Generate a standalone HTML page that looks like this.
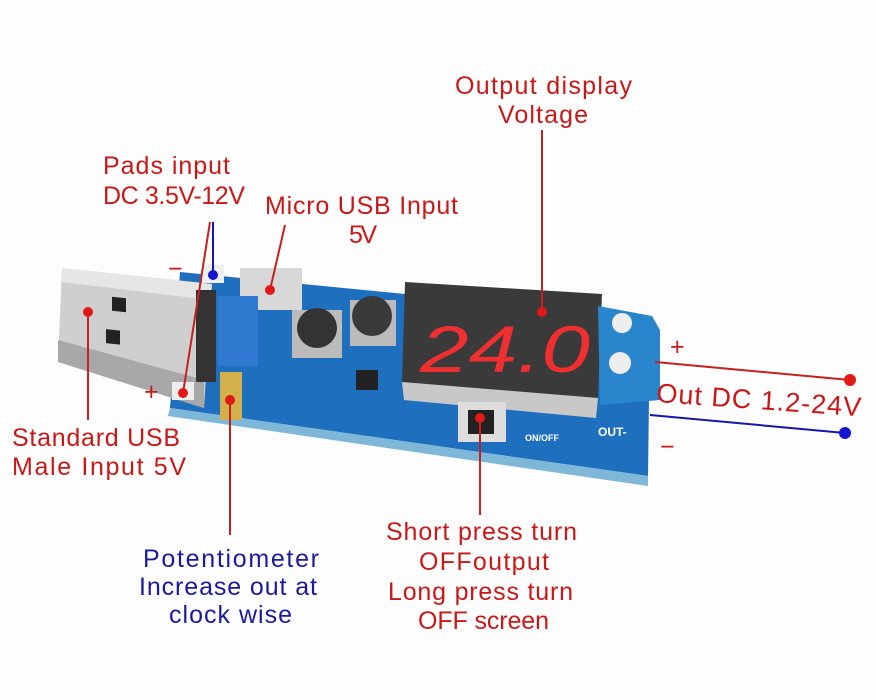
<!DOCTYPE html>
<html><head><meta charset="utf-8"><style>
html,body{margin:0;padding:0;background:#fff;}
svg{display:block;}
text{font-family:"Liberation Sans","DejaVu Sans",sans-serif;}
</style></head><body>
<svg width="876" height="700" viewBox="0 0 876 700" xmlns="http://www.w3.org/2000/svg">
<rect width="876" height="700" fill="#fdfdfd"/>
<!-- PCB -->
<polygon points="180,272 650,318 648,476 170,408" fill="#1f6fbf"/>
<polygon points="170,408 648,476 648,486 168,416" fill="#7fb7d8"/>
<!-- USB metal -->
<polygon points="62,268 212,284 204,408 58,362" fill="#cfcfcf"/>
<polygon points="62,268 212,284 210,300 62,282" fill="#e6e6e6"/>
<polygon points="58,340 204,380 204,408 58,362" fill="#a8a8a8"/>
<rect x="112" y="285" width="14" height="14" fill="#222" transform="skewY(6)"/>
<rect x="106" y="318" width="14" height="14" fill="#222" transform="skewY(6)"/>
<rect x="196" y="290" width="20" height="92" fill="#333"/>
<rect x="202" y="265" width="22" height="18" fill="#eee"/>
<rect x="172" y="382" width="22" height="18" fill="#eee"/>
<rect x="240" y="268" width="62" height="42" fill="#d8d8d8"/>
<rect x="218" y="296" width="40" height="70" fill="#2f7ad0"/>
<rect x="220" y="372" width="22" height="48" fill="#d4b04a"/>
<rect x="292" y="310" width="50" height="48" fill="#bbb"/>
<circle cx="317" cy="328" r="20" fill="#333"/>
<rect x="350" y="300" width="46" height="46" fill="#bbb"/>
<circle cx="372" cy="316" r="20" fill="#3a3a3a"/>
<rect x="356" y="370" width="22" height="20" fill="#222"/>
<!-- display -->
<polygon points="405,282 602,294 598,398 402,382" fill="#3a3a3a"/>
<polygon points="402,382 598,398 596,418 404,400" fill="#c8c8c8"/>
<text x="420" y="372" font-size="66" fill="#f03030" font-style="italic" font-family="Liberation Mono" textLength="170" lengthAdjust="spacingAndGlyphs">24.0</text>
<rect x="458" y="402" width="48" height="40" fill="#ddd"/>
<rect x="468" y="410" width="26" height="24" fill="#222"/>
<text x="525" y="441" font-size="9" fill="#fff" font-weight="bold">ON/OFF</text>
<text x="598" y="436" font-size="12" fill="#fff" font-weight="bold">OUT-</text>
<polygon points="598,306 652,316 660,330 660,400 600,405" fill="#2a86cc"/>
<circle cx="622" cy="323" r="10" fill="#eee"/>
<circle cx="620" cy="363" r="11" fill="#eee"/>
<!-- leader lines -->
<g stroke="#c82020" stroke-width="2" fill="none">
<line x1="210" y1="222" x2="183" y2="393"/>
<line x1="285" y1="225" x2="270" y2="290"/>
<line x1="88" y1="312" x2="88" y2="420"/>
<line x1="230" y1="400" x2="230" y2="535"/>
<line x1="542" y1="130" x2="542" y2="312"/>
<line x1="480" y1="418" x2="480" y2="515"/>
<line x1="655" y1="362" x2="850" y2="380"/>
</g>
<g stroke="#1515b0" stroke-width="2" fill="none">
<line x1="213" y1="222" x2="213" y2="275"/>
<line x1="650" y1="415" x2="845" y2="433"/>
</g>
<g fill="#e01818">
<circle cx="183" cy="393" r="5"/><circle cx="270" cy="290" r="5"/><circle cx="88" cy="312" r="5"/>
<circle cx="230" cy="400" r="5"/><circle cx="542" cy="312" r="5"/><circle cx="480" cy="418" r="5"/>
<circle cx="850" cy="380" r="6"/>
</g>
<circle cx="213" cy="275" r="5" fill="#1515d0"/>
<circle cx="845" cy="433" r="6" fill="#1515d0"/>
<!-- labels -->
<g fill="#c81818" font-size="25" lengthAdjust="spacingAndGlyphs">
<text x="103" y="174" textLength="127">Pads input</text>
<text x="103" y="204" textLength="142">DC 3.5V-12V</text>
<text x="265" y="214" textLength="193">Micro USB Input</text>
<text x="349" y="243" textLength="28">5V</text>
<text x="455" y="94" textLength="177">Output display</text>
<text x="498" y="123" textLength="90">Voltage</text>
<text x="12" y="446" textLength="168">Standard USB</text>
<text x="12" y="475" textLength="174">Male Input 5V</text>
<text x="386" y="540" textLength="191">Short press turn</text>
<text x="419" y="570" textLength="130">OFFoutput</text>
<text x="388" y="600" textLength="185">Long press turn</text>
<text x="418" y="629" textLength="131">OFF screen</text>
<text x="656" y="402" font-size="27" transform="rotate(4 656 402)" textLength="205">Out DC 1.2-24V</text>
<text x="168" y="277">−</text>
<text x="144" y="400">+</text>
<text x="670" y="355">+</text>
<text x="660" y="455">−</text>
</g>
<g fill="#1a1a9e" font-size="25" lengthAdjust="spacingAndGlyphs">
<text x="143" y="567" textLength="176">Potentiometer</text>
<text x="139" y="595" textLength="178">Increase out at</text>
<text x="169" y="623" textLength="123">clock wise</text>
</g>
</svg>
</body></html>
